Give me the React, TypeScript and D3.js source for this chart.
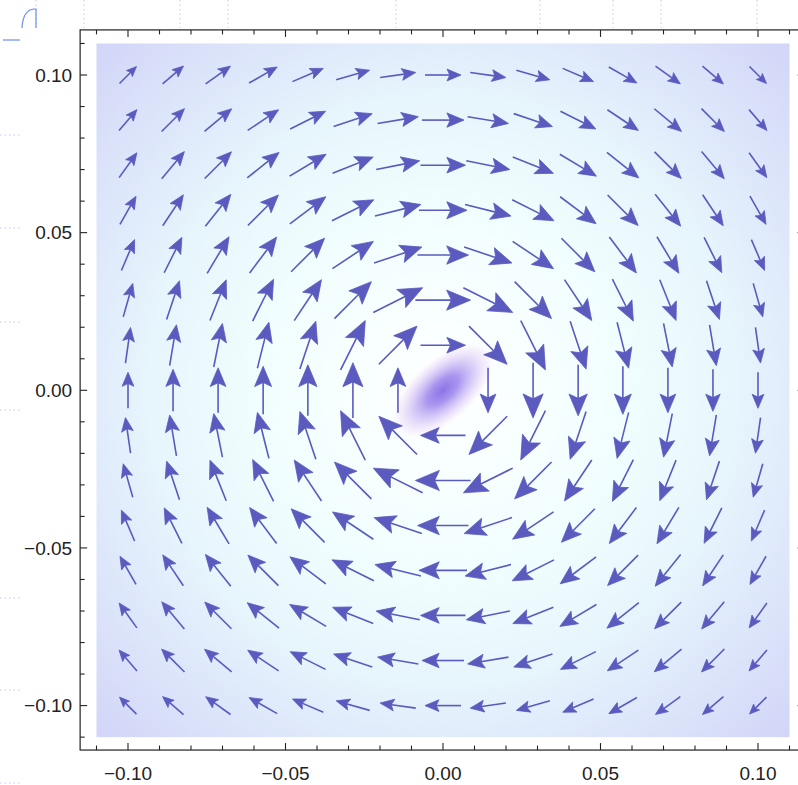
import React from "react";
import * as d3 from "d3";

// grid where the field is sampled (same for x and y)
const gridValues = [
  -0.1, -0.0857, -0.0714, -0.0571, -0.0429, -0.0286, -0.0143, 0,
  0.0143, 0.0286, 0.0429, 0.0571, 0.0714, 0.0857, 0.1,
];

// field strength, rows from y = 0.10 (top) to y = -0.10
// the field turns clockwise around the origin
const magnitude = [
  [0.40, 0.46, 0.51, 0.54, 0.56, 0.58, 0.60, 0.60, 0.60, 0.58, 0.56, 0.54, 0.51, 0.46, 0.40],
  [0.46, 0.54, 0.59, 0.62, 0.66, 0.68, 0.69, 0.70, 0.69, 0.68, 0.66, 0.62, 0.59, 0.54, 0.46],
  [0.51, 0.59, 0.63, 0.68, 0.71, 0.73, 0.74, 0.75, 0.74, 0.73, 0.71, 0.68, 0.63, 0.59, 0.51],
  [0.54, 0.62, 0.68, 0.72, 0.75, 0.78, 0.79, 0.80, 0.79, 0.78, 0.75, 0.72, 0.68, 0.62, 0.54],
  [0.56, 0.66, 0.71, 0.75, 0.79, 0.82, 0.84, 0.85, 0.84, 0.82, 0.79, 0.75, 0.71, 0.66, 0.56],
  [0.58, 0.68, 0.73, 0.78, 0.82, 0.87, 0.92, 0.92, 0.92, 0.87, 0.82, 0.78, 0.73, 0.68, 0.58],
  [0.60, 0.69, 0.74, 0.79, 0.84, 0.92, 0.90, 0.75, 0.90, 0.92, 0.84, 0.79, 0.74, 0.69, 0.60],
  [0.60, 0.70, 0.75, 0.80, 0.85, 0.92, 0.75, 0.00, 0.75, 0.92, 0.85, 0.80, 0.75, 0.70, 0.60],
  [0.60, 0.69, 0.74, 0.79, 0.84, 0.92, 0.90, 0.75, 0.90, 0.92, 0.84, 0.79, 0.74, 0.69, 0.60],
  [0.58, 0.68, 0.73, 0.78, 0.82, 0.87, 0.92, 0.92, 0.92, 0.87, 0.82, 0.78, 0.73, 0.68, 0.58],
  [0.56, 0.66, 0.71, 0.75, 0.79, 0.82, 0.84, 0.85, 0.84, 0.82, 0.79, 0.75, 0.71, 0.66, 0.56],
  [0.54, 0.62, 0.68, 0.72, 0.75, 0.78, 0.79, 0.80, 0.79, 0.78, 0.75, 0.72, 0.68, 0.62, 0.54],
  [0.51, 0.59, 0.63, 0.68, 0.71, 0.73, 0.74, 0.75, 0.74, 0.73, 0.71, 0.68, 0.63, 0.59, 0.51],
  [0.46, 0.54, 0.59, 0.62, 0.66, 0.68, 0.69, 0.70, 0.69, 0.68, 0.66, 0.62, 0.59, 0.54, 0.46],
  [0.40, 0.46, 0.51, 0.54, 0.56, 0.58, 0.60, 0.60, 0.60, 0.58, 0.56, 0.54, 0.51, 0.46, 0.40],
];

const majorTicks = [-0.1, -0.05, 0, 0.05, 0.1];
const tickLabels = ["−0.10", "−0.05", "0.00", "0.05", "0.10"];
const minorTicks = [
  -0.11, -0.09, -0.08, -0.07, -0.06, -0.04, -0.03, -0.02, -0.01,
  0.01, 0.02, 0.03, 0.04, 0.06, 0.07, 0.08, 0.09, 0.11,
];

const W = 798;
const H = 785;
const arrowColor = "#5a5abf";

const App = () => {
  const x = d3.scaleLinear().domain([-0.1, 0.1]).range([128, 758]);
  const y = d3.scaleLinear().domain([-0.1, 0.1]).range([705.6, 75]);
  const len = d3.scaleLinear().domain([0, 1]).range([0, 60]);
  const head = d3.scaleLinear().domain([0.4, 0.6, 0.92]).range([10, 14, 24]).clamp(true);

  const fx0 = x(-0.1152);
  const fx1 = x(0.1148);
  const fy0 = y(0.1143);
  const fy1 = y(-0.1141);

  const dx0 = x(-0.11);
  const dx1 = x(0.11);
  const dy0 = y(0.11);
  const dy1 = y(-0.11);
  const cx = x(0);
  const cy = y(0);

  const arrows: JSX.Element[] = [];
  magnitude.forEach((row, ri) => {
    const gy = gridValues[gridValues.length - 1 - ri];
    row.forEach((m, ci) => {
      const gx = gridValues[ci];
      const r = Math.hypot(gx, gy);
      if (!m || r === 0) return;
      // clockwise: (y, -x) in data space -> screen
      const ux = gy / r;
      const uy = gx / r;
      const px = x(gx);
      const py = y(gy);
      const L = len(m);
      const h = head(m);
      const w = h * 0.42;
      const tx = px + (ux * L) / 2;
      const ty = py + (uy * L) / 2;
      const sx = px - (ux * L) / 2;
      const sy = py - (uy * L) / 2;
      const bx = tx - ux * h;
      const by = ty - uy * h;
      const nx = -uy;
      const ny = ux;
      const notchX = tx - ux * h * 0.8;
      const notchY = ty - uy * h * 0.8;
      const d = `M${tx},${ty}L${bx + nx * w},${by + ny * w}L${notchX},${notchY}L${bx - nx * w},${by - ny * w}Z`;
      arrows.push(
        <g key={`${ri}-${ci}`}>
          <line
            x1={sx}
            y1={sy}
            x2={tx - ux * h * 0.7}
            y2={ty - uy * h * 0.7}
            stroke={arrowColor}
            strokeWidth={1.6}
          />
          <path d={d} fill={arrowColor} stroke={arrowColor} strokeWidth={0.8} strokeLinejoin="round" />
        </g>
      );
    });
  });

  const allTicks = [
    ...majorTicks.map((v) => ({ v, size: 7 })),
    ...minorTicks.map((v) => ({ v, size: 4.5 })),
  ];

  const topDots = [36, 84, 180, 228, 396, 540, 613, 661, 757];
  const leftDots = [135, 228, 322, 410, 598, 690, 783];

  return (
    <svg
      width={W}
      height={H}
      style={{ position: "absolute", left: 0, top: 0, display: "block", background: "#fff" }}
    >
      <defs>
        <radialGradient id="bg" gradientUnits="userSpaceOnUse" cx={cx} cy={cy} r={490}>
          <stop offset="0" stopColor="#ffffff" />
          <stop offset="0.15" stopColor="#f9ffff" />
          <stop offset="0.4" stopColor="#f0fdfe" />
          <stop offset="0.6" stopColor="#e7f5fc" />
          <stop offset="0.72" stopColor="#e0ebfb" />
          <stop offset="0.85" stopColor="#dae1f9" />
          <stop offset="1" stopColor="#d2d5f8" />
        </radialGradient>
        <radialGradient id="blob">
          <stop offset="0" stopColor="#8f72e6" stopOpacity="1" />
          <stop offset="0.3" stopColor="#a08aee" stopOpacity="0.9" />
          <stop offset="0.6" stopColor="#c9b6f4" stopOpacity="0.65" />
          <stop offset="0.85" stopColor="#f0dcf6" stopOpacity="0.4" />
          <stop offset="1" stopColor="#ffffff" stopOpacity="0" />
        </radialGradient>
      </defs>

      {/* notebook leftovers around the graphic */}
      {topDots.map((d) => (
        <line key={`t${d}`} x1={d} x2={d} y1={0} y2={28} stroke="#b8c8f4" strokeDasharray="1.5,3" />
      ))}
      {leftDots.map((d) => (
        <line key={`l${d}`} x1={0} x2={20} y1={d} y2={d} stroke="#b8c8f4" strokeDasharray="1.5,3" />
      ))}
      <line x1={3} x2={20} y1={40} y2={40} stroke="#6b8ef0" strokeWidth={1.2} />
      <path d="M22,28 Q23,10 34,9 L36,9 L36,28" fill="none" stroke="#6b8ef0" strokeWidth={1.2} />

      {/* density */}
      <rect x={dx0} y={dy0} width={dx1 - dx0} height={dy1 - dy0} fill="url(#bg)" />
      <ellipse
        cx={cx}
        cy={cy}
        rx={64}
        ry={32}
        transform={`rotate(-42 ${cx} ${cy})`}
        fill="url(#blob)"
      />

      {arrows}

      {/* frame */}
      <rect x={fx0} y={fy0} width={fx1 - fx0} height={fy1 - fy0} fill="none" stroke="#222" strokeWidth={1.2} />
      {allTicks.map(({ v, size }) => (
        <g key={`k${v}`} stroke="#222" strokeWidth={1.1}>
          <line x1={x(v)} x2={x(v)} y1={fy1} y2={fy1 - size} />
          <line x1={x(v)} x2={x(v)} y1={fy0} y2={fy0 + size} />
          <line x1={fx0} x2={fx0 + size} y1={y(v)} y2={y(v)} />
          <line x1={fx1} x2={fx1 - size} y1={y(v)} y2={y(v)} />
        </g>
      ))}
      {majorTicks.map((v, i) => (
        <text
          key={`xl${v}`}
          x={x(v)}
          y={fy1 + 30}
          textAnchor="middle"
          fontFamily="'Liberation Sans', Arial, sans-serif"
          fontSize={19}
          fill="#222"
        >
          {tickLabels[i]}
        </text>
      ))}
      {majorTicks.map((v, i) => (
        <text
          key={`yl${v}`}
          x={fx0 - 8}
          y={y(v)}
          dy="0.36em"
          textAnchor="end"
          fontFamily="'Liberation Sans', Arial, sans-serif"
          fontSize={19}
          fill="#222"
        >
          {tickLabels[i]}
        </text>
      ))}
    </svg>
  );
};

export default App;
